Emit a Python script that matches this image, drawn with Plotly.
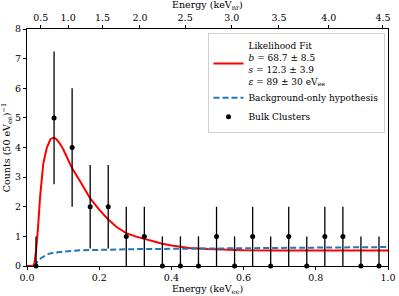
import plotly.graph_objects as go

# Binned data (keV_ee bin centres, counts, asymmetric errors)
bin_centers = [0.025, 0.075, 0.125, 0.175, 0.225, 0.275, 0.325, 0.375, 0.425, 0.475,
               0.525, 0.575, 0.625, 0.675, 0.725, 0.775, 0.825, 0.875, 0.925, 0.975]
counts = [0, 5, 4, 2, 2, 1, 1, 0, 0, 0, 1, 0, 1, 0, 1, 0, 1, 1, 0, 0]
err_up = [1, 2.24, 2, 1.41, 1.41, 1, 1, 1, 1, 1, 1, 1, 1, 1, 1, 1, 1, 1, 1, 1]
err_down = [0, 2.24, 2, 1.41, 1.41, 1, 1, 0, 0, 0, 1, 0, 1, 0, 1, 0, 1, 1, 0, 0]

# Likelihood fit curve
fit_E = [0.0, 0.015, 0.02, 0.025, 0.03, 0.036, 0.045, 0.055, 0.065, 0.073, 0.08, 0.09,
         0.10, 0.11, 0.125, 0.15, 0.175, 0.2, 0.225, 0.25, 0.275, 0.3, 0.325, 0.35,
         0.375, 0.4, 0.425, 0.45, 0.5, 0.55, 0.6, 0.7, 0.8, 0.9, 1.0]
fit_y = [0.0, 0.0, 0.05, 0.5, 1.2, 2.3, 3.45, 4.0, 4.28, 4.33, 4.3, 4.15,
         3.95, 3.7, 3.3, 2.8, 2.28, 1.9, 1.57, 1.3, 1.11, 1.0, 0.92, 0.82,
         0.75, 0.69, 0.64, 0.61, 0.57, 0.55, 0.53, 0.52, 0.52, 0.52, 0.52]

# Background-only curve
bkg_E = [0.02, 0.025, 0.03, 0.04, 0.05, 0.06, 0.075, 0.1, 0.125, 0.15, 0.2, 0.3,
         0.4, 0.5, 0.6, 0.7, 0.8, 0.9, 1.0]
bkg_y = [0.0, 0.08, 0.17, 0.28, 0.36, 0.41, 0.45, 0.49, 0.51, 0.53, 0.55, 0.57,
         0.58, 0.59, 0.60, 0.61, 0.62, 0.63, 0.64]

# Top axis: nuclear-recoil energy labels and their keV_ee positions
nr_labels = ["0.5", "1.0", "1.5", "2.0", "2.5", "3.0", "3.5", "4.0", "4.5"]
nr_pos_ee = [0.038, 0.114, 0.209, 0.313, 0.438, 0.567, 0.698, 0.836, 0.986]

x_ticks = [0.0, 0.2, 0.4, 0.6, 0.8, 1.0]
y_ticks = [0, 1, 2, 3, 4, 5, 6, 7, 8]

FONT = "DejaVu Serif, Liberation Serif, serif"

fig = go.Figure()
fig.add_trace(go.Scatter(
    x=fit_E, y=fit_y, mode="lines",
    line=dict(color="#ff0000", width=2),
    name="Likelihood Fit<br><i>b</i> = 68.7 ± 8.5<br><i>s</i> = 12.3 ± 3.9<br><i>ε</i> = 89 ± 30 eV<sub>ee</sub>",
))
fig.add_trace(go.Scatter(
    x=bkg_E, y=bkg_y, mode="lines",
    line=dict(color="#1f77b4", width=2, dash="6px,3px"),
    name="Background-only hypothesis",
))
fig.add_trace(go.Scatter(
    x=bin_centers, y=counts, mode="markers", cliponaxis=False,
    marker=dict(color="black", size=5),
    error_y=dict(type="data", symmetric=False, array=err_up, arrayminus=err_down,
                 color="black", thickness=1.3, width=0),
    name="Bulk Clusters",
))
# invisible trace to hold the top axis
fig.add_trace(go.Scatter(x=[0, 1], y=[0, 0], xaxis="x2", mode="lines",
                         line=dict(width=0), showlegend=False, hoverinfo="skip"))

axis_common = dict(showgrid=False, zeroline=False, showline=True, linecolor="black",
                   linewidth=1, ticks="outside", ticklen=3, tickwidth=1,
                   tickcolor="black", automargin=False,
                   tickfont=dict(family=FONT, size=9.5, color="black"))

fig.update_layout(
    width=399, height=296,
    margin=dict(l=27, r=11, t=29, b=30, autoexpand=False),
    paper_bgcolor="white", plot_bgcolor="white",
    font=dict(family=FONT, size=9, color="black"),
    showlegend=True,
    legend=dict(x=0.50, y=0.985, xanchor="left", yanchor="top",
                bgcolor="white", bordercolor="#d0d0d0", borderwidth=1,
                font=dict(family=FONT, size=9, color="black"),
                tracegroupgap=0, itemwidth=30, valign="middle"),
    xaxis=dict(range=[0, 1], tickvals=x_ticks,
               ticktext=[f"{v:.1f}" for v in x_ticks],
               title=dict(text="Energy (keV<sub>ee</sub>)",
                          font=dict(family=FONT, size=9.5)),
               mirror=False, **axis_common),
    xaxis2=dict(range=[0, 1], overlaying="x", side="top", anchor="y",
                tickmode="array", tickvals=nr_pos_ee, ticktext=nr_labels,
                **axis_common),
    yaxis=dict(range=[0, 8], tickvals=y_ticks,
               title=dict(text="Counts (50 eV<sub>ee</sub>)<sup>−1</sup>",
                          font=dict(family=FONT, size=9.5)),
               mirror=True, **axis_common),
    annotations=[dict(text="Energy (keV<sub>nr</sub>)", xref="paper", yref="paper",
                      x=0.5, y=1, xanchor="center", yanchor="bottom", yshift=15,
                      showarrow=False, font=dict(family=FONT, size=9.5, color="black"))],
)

fig.write_html("out.html", config={"displayModeBar": False},
               post_script="document.body.style.margin='0px';")
